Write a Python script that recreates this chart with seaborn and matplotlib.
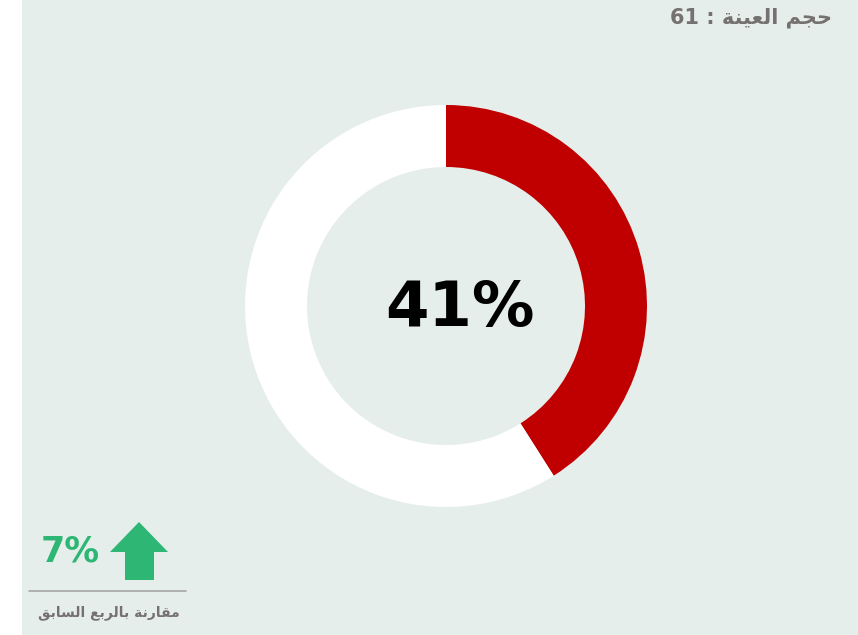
import matplotlib
matplotlib.use("Agg")
import matplotlib.pyplot as plt
import seaborn as sns
from matplotlib.patches import Rectangle, Polygon

sns.set_theme(style="white")
plt.rcParams['font.family'] = ['DejaVu Sans']

# ---- data ----
categories = ["نعم", "لا"]
values = [41, 59]
center_label = "41%"
change_value = "7%"
sample_size = 61
# Arabic text in visual order (presentation forms, right-to-left reversed)
sample_label = "\uFE94\uFEE8\uFEF4\uFECC\uFEDF\uFE8D \uFEE2\uFEA0\uFEA3"   # حجم العينة
compare_label = ("\uFED6\uFE91\uFE8E\uFEB4\uFEDF\uFE8D "
                 "\uFECA\uFE91\uFEAE\uFEDF\uFE8E\uFE91 "
                 "\uFE94\uFEE7\uFEAD\uFE8E\uFED8\uFEE3")                     # مقارنة بالربع السابق
colors = ["#c00000", "#ffffff"]

BG = "#e6eeeb"
W, H = 858, 635
fig = plt.figure(figsize=(W / 100, H / 100), dpi=100, facecolor="white")
ax = fig.add_axes([0, 0, 1, 1])

ax.add_patch(Rectangle((22, 0), W - 22, H, facecolor=BG, edgecolor="none", zorder=0))

ax.pie(values, colors=colors, startangle=90, counterclock=False,
       center=(446, H - 306), radius=201, frame=True,
       wedgeprops=dict(width=62, edgecolor="none"))
ax.set_xlim(0, W)
ax.set_ylim(0, H)
ax.set_aspect("equal")
ax.axis("off")

ax.text(460, H - 309, center_label, ha="center", va="center",
        fontsize=45, fontweight="bold", color="#000000")

ax.text(832, H - 18, f"{sample_size} : " + sample_label, ha="right", va="center",
        fontsize=15, fontweight="bold", color="#767171")

# change indicator
ax.text(70, H - 551, change_value, ha="center", va="center",
        fontsize=25, fontweight="bold", color="#2db674")
arrow = [(139, 522), (168, 552), (154, 552), (154, 580), (125, 580), (125, 552), (110, 552)]
ax.add_patch(Polygon([(x, H - y) for x, y in arrow], closed=True,
                     facecolor="#2db674", edgecolor="none"))
ax.plot([29, 186], [H - 591, H - 591], color="#a6a6a6", lw=1.2)
ax.text(109, H - 613, compare_label, ha="center", va="center",
        fontsize=10, fontweight="bold", color="#767171")

fig.savefig("out.png", dpi=100, facecolor="white")
